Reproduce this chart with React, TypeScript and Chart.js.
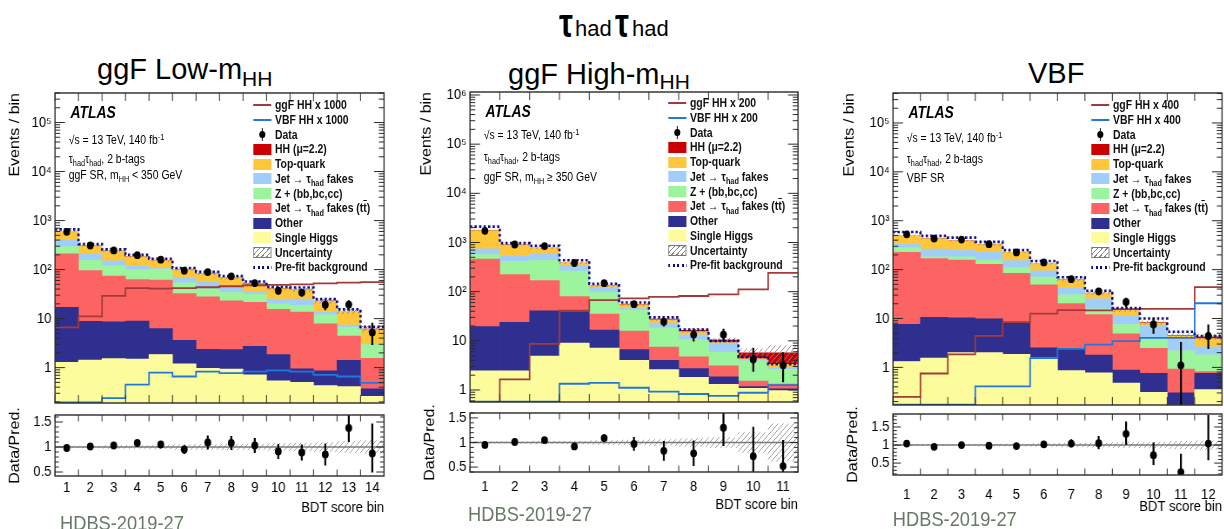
import React, { useEffect, useRef } from 'react';
import { Chart, registerables } from 'chart.js';

Chart.register(...registerables);

const FONT = '"Liberation Sans", Arial, Helvetica, sans-serif';
const SQUEEZE = 0.87;
const PANEL_W = 452;
const FRAME_LEFT = 63.2;

// ---------- tick labels ----------
const logTickValues = [1, 10, 100, 1000, 10000, 100000, 1000000];
const logTickLabels = ['1', '10', '10²', '10³', '10⁴', '10⁵', '10⁶'];
const ratioTickValues = [0.5, 1, 1.5];
const ratioTickLabels = ['0.5', '1', '1.5'];

// ---------- process styles (bottom of stack first) ----------
const processNames = ['Single Higgs', 'Other', 'Jet fakes (ttbar)', 'Z + (bb,bc,cc)', 'Jet fakes', 'Top-quark', 'HH (mu=2.2)'];
const processColors = ['#fdfc9d', '#2f2f8f', '#fc6464', '#9cf59c', '#a0cef8', '#ffc63a', '#cc0000'];
const GGF_COLOR = '#a33a3a';
const VBF_COLOR = '#2277dd';
const PREFIT_COLOR = '#0d0d8a';

// ---------- ggF Low-mHH ----------
const lowBins = ['1', '2', '3', '4', '5', '6', '7', '8', '9', '10', '11', '12', '13', '14'];
const lowSingleHiggs = [1.29, 1.42, 1.53, 1.5, 1.85, 1.2, 0.97, 0.93, 0.71, 0.54, 0.5, 0.43, 0.41, 0.26];
const lowOther = [15.8, 7.4, 7.1, 7.4, 4.4, 2.4, 1.4, 1.4, 2.0, 1.3, 0.45, 0.43, 1.0, 0.11];
const lowFakesTT = [192, 87, 65, 54, 55, 29, 25.6, 20.7, 18.8, 13.6, 12.7, 7.0, 3.0, 1.17];
const lowZhf = [84, 58, 46, 37, 39, 21.4, 13, 11, 10.1, 4.6, 4.9, 4.1, 2.2, 1.4];
const lowFakes = [105, 52, 31, 17, 5, 12, 15, 10, 3.4, 5, 6.5, 2, 0.8, 0.07];
const lowTop = [202, 101, 89, 65, 46, 34, 26, 24, 16.5, 16, 13.6, 8.6, 6.6, 3.0];
const lowHH = [0.02, 0.03, 0.07, 0.09, 0.09, 0.09, 0.1, 0.1, 0.11, 0.11, 0.11, 0.12, 0.12, 0.12];
const lowData = [588, 310, 246, 197, 159, 95, 89, 73, 53, 37, 34, 19.2, 19.3, 5.2];
const lowDataErrLo = [24, 18, 16, 14, 13, 10, 9.4, 8.5, 7.3, 6.1, 5.8, 4.4, 4.4, 2.3];
const lowDataErrHi = [24, 18, 16, 14, 13, 10, 9.4, 8.5, 7.3, 6.1, 5.8, 4.4, 4.4, 3.0];
const lowPrefit = [661, 331, 259, 200, 166, 108, 90, 74, 57, 44, 43, 25, 15.4, 6.8];
const lowGgf = [6.6, 11.1, 29, 41.7, 41, 41.7, 43.6, 45.7, 47.9, 48.6, 50, 52.5, 54, 55.6];
const lowVbf = [0.195, 0.195, 0.24, 0.45, 0.79, 0.66, 0.83, 0.77, 0.83, 0.88, 0.83, 0.71, 0.66, 0.49];
const lowRatio = [0.98, 1.01, 1.03, 1.08, 1.05, 0.95, 1.09, 1.08, 1.03, 0.91, 0.89, 0.85, 1.38, 0.87];
const lowRatioErrLo = [0.04, 0.05, 0.05, 0.06, 0.07, 0.09, 0.14, 0.14, 0.15, 0.15, 0.16, 0.22, 0.28, 0.38];
const lowRatioErrHi = [0.04, 0.05, 0.05, 0.06, 0.07, 0.09, 0.14, 0.14, 0.15, 0.15, 0.16, 0.22, 0.28, 0.6];
const lowUnc = [0.02, 0.02, 0.03, 0.03, 0.04, 0.05, 0.05, 0.06, 0.06, 0.07, 0.08, 0.09, 0.11, 0.13];

// ---------- ggF High-mHH ----------
const highBins = ['1', '2', '3', '4', '5', '6', '7', '8', '9', '10', '11'];
const highSingleHiggs = [2.45, 2.45, 4.9, 8.97, 7.1, 4.0, 2.6, 1.8, 1.3, 1.08, 0.97];
const highOther = [17, 21.4, 35.9, 30.6, 9.5, 2.6, 1.4, 0.93, 0.56, 0.09, 0.08];
const highFakesTT = [443, 199, 128, 39.4, 18.4, 9.1, 3.46, 1.97, 1.23, 0.35, 0.27];
const highZhf = [103, 191, 265, 182, 60.5, 26.3, 10.8, 5.9, 2.8, 2.38, 1.28];
const highFakes = [180, 109, 148, 78, 21.5, 5.6, 4.6, 2.6, 3.1, 0.2, 0.3];
const highTop = [1000, 374, 187, 44, 13, 6.4, 4.0, 2.2, 0.4, 0.25, 0.44];
const highHH = [0.01, 0.02, 0.1, 0.46, 0.75, 0.8, 0.86, 0.9, 0.97, 1.35, 2.36];
const highData = [1730, 910, 845, 383, 149, 55.7, 24.5, 13.4, 13.4, 4.15, 3.19];
const highDataErrLo = [42, 30, 29, 20, 12, 7.5, 5, 3.7, 3.7, 1.8, 1.76];
const highDataErrHi = [42, 30, 29, 20, 12, 7.5, 5, 4.3, 4.3, 3.05, 2.7];
const highPrefit = [2100, 970, 857, 434, 145, 60, 30, 16.9, 10, 4.7, 3.34];
const highGgf = [0.5, 1.64, 8.7, 40.9, 67, 73, 78, 81.7, 88, 111, 241];
const highVbf = [0.58, 0.58, 0.58, 1.34, 1.4, 1.11, 0.93, 0.83, 0.76, 0.88, 1.26];
const highRatio = [0.95, 1.01, 1.05, 0.92, 1.09, 0.97, 0.83, 0.78, 1.3, 0.72, 0.52];
const highRatioErrLo = [0.03, 0.03, 0.04, 0.05, 0.08, 0.14, 0.2, 0.26, 0.37, 0.55, 0.6];
const highRatioErrHi = [0.03, 0.03, 0.04, 0.05, 0.08, 0.14, 0.2, 0.26, 0.32, 0.6, 0.53];
const highUnc = [0.02, 0.02, 0.03, 0.03, 0.04, 0.05, 0.06, 0.08, 0.1, 0.2, 0.38];

// ---------- VBF SR ----------
const vbfBins = ['1', '2', '3', '4', '5', '6', '7', '8', '9', '10', '11', '12'];
const vbfSingleHiggs = [1.32, 1.55, 2.0, 2.0, 1.86, 1.57, 0.86, 0.77, 0.48, 0.31, 0.17, 0.35];
const vbfOther = [6.24, 9.05, 8.3, 7.85, 6.34, 0.93, 1.49, 1.01, 0.4, 0.45, 0.13, 0.41];
const vbfFakesTT = [217, 158, 147, 118, 76, 46.5, 17.9, 10.3, 4.0, 1.7, 0.62, 0.06];
const vbfZhf = [54, 14, 26, 29, 26, 21, 10.3, 3.6, 2.66, 1.6, 1.26, 0.98];
const vbfFakes = [63, 79, 67, 68, 42, 24, 12.5, 9.7, 3.64, 2.94, 1.4, 0.82];
const vbfTop = [162, 170, 137, 101, 73, 40, 18.8, 7.6, 3.5, 1.2, 0.8, 1.25];
const vbfHH = [0.01, 0.01, 0.01, 0.03, 0.05, 0.08, 0.1, 0.1, 0.11, 0.11, 0.11, 0.35];
const vbfData = [527, 432, 412, 331, 225, 140, 63.7, 36, 21.8, 7.56, 1.1, 4.38];
const vbfDataErrLo = [23, 21, 20, 18, 15, 12, 8, 6, 4.7, 2.7, 0.95, 2.0];
const vbfDataErrHi = [23, 21, 20, 18, 15, 12, 8, 6, 4.7, 2.7, 2.2, 3.2];
const vbfPrefit = [589, 489, 452, 370, 250, 150, 70, 37, 16.4, 10, 5.37, 4.38];
const vbfGgf = [0.25, 0.75, 1.85, 4.4, 8.4, 12.6, 14.8, 14.7, 15.5, 15.8, 15.8, 44];
const vbfVbf = [0.172, 0.172, 0.172, 0.41, 0.41, 1.55, 2.4, 2.93, 3.45, 4.0, 4.0, 20.5];
const vbfRatio = [1.04, 0.95, 1.0, 0.98, 0.97, 1.02, 1.04, 1.05, 1.31, 0.72, 0.25, 1.04];
const vbfRatioErrLo = [0.04, 0.04, 0.05, 0.05, 0.06, 0.08, 0.1, 0.17, 0.3, 0.27, 0.3, 0.46];
const vbfRatioErrHi = [0.04, 0.04, 0.05, 0.05, 0.06, 0.08, 0.12, 0.2, 0.34, 0.35, 0.51, 0.8];
const vbfUnc = [0.02, 0.02, 0.02, 0.03, 0.03, 0.04, 0.05, 0.06, 0.07, 0.08, 0.1, 0.12];

const Sub = ({ children }: any) => (
  <span style={{ fontSize: '0.7em', position: 'relative', top: '0.4em' }}>{children}</span>
);
const Sup = ({ children }: any) => (
  <span style={{ fontSize: '0.7em', position: 'relative', top: '-0.45em' }}>{children}</span>
);

type Panel = any;

const panels: Panel[] = [
  {
    key: 'low', left: 0, bins: lowBins,
    stack: [lowSingleHiggs, lowOther, lowFakesTT, lowZhf, lowFakes, lowTop, lowHH],
    data: lowData, dataLo: lowDataErrLo, dataHi: lowDataErrHi, prefit: lowPrefit,
    ggf: lowGgf, vbf: lowVbf, ratio: lowRatio, ratioLo: lowRatioErrLo, ratioHi: lowRatioErrHi, unc: lowUnc,
    yMin: 0.19, yMax: 4e5, rMin: 0.42, rMax: 1.64,
    mainTop: 93, mainBottom: 403, ratioTop: 415, ratioBottom: 476, frameRight: 441.4,
    yTitlePad: 7.6, xLabelPad: 3, xTitlePad: 5,
    legendY: 105, factor: '1000', infoY: [113, 140, 159, 175],
    region: <>ggF SR, m<Sub>HH</Sub> &lt; 350 GeV</>,
    hdbsX: 69, hdbsY: 522,
  },
  {
    key: 'high', left: 415, bins: highBins,
    stack: [highSingleHiggs, highOther, highFakesTT, highZhf, highFakes, highTop, highHH],
    data: highData, dataLo: highDataErrLo, dataHi: highDataErrHi, prefit: highPrefit,
    ggf: highGgf, vbf: highVbf, ratio: highRatio, ratioLo: highRatioErrLo, ratioHi: highRatioErrHi, unc: highUnc,
    yMin: 0.57, yMax: 1.15e6, rMin: 0.4, rMax: 1.6,
    mainTop: 92, mainBottom: 402, ratioTop: 413, ratioBottom: 472, frameRight: 440.2,
    yTitlePad: 4.2, xLabelPad: 6, xTitlePad: 4,
    legendY: 103, factor: '200', infoY: [112, 135, 157, 177],
    region: <>ggF SR, m<Sub>HH</Sub> ≥ 350 GeV</>,
    hdbsX: 61, hdbsY: 513,
  },
  {
    key: 'vbf', left: 838, bins: vbfBins,
    stack: [vbfSingleHiggs, vbfOther, vbfFakesTT, vbfZhf, vbfFakes, vbfTop, vbfHH],
    data: vbfData, dataLo: vbfDataErrLo, dataHi: vbfDataErrHi, prefit: vbfPrefit,
    ggf: vbfGgf, vbf: vbfVbf, ratio: vbfRatio, ratioLo: vbfRatioErrLo, ratioHi: vbfRatioErrHi, unc: vbfUnc,
    yMin: 0.17, yMax: 4.1e5, rMin: 0.17, rMax: 1.86,
    mainTop: 93, mainBottom: 405, ratioTop: 414, ratioBottom: 475, frameRight: 441.4,
    yTitlePad: 4.2, xLabelPad: 11, xTitlePad: 5,
    legendY: 105, factor: '400', infoY: [113, 138, 159, 178],
    region: <>VBF SR</>,
    hdbsX: 63, hdbsY: 518,
  },
];

function makeHatch(color: string) {
  const c = document.createElement('canvas');
  c.width = 6; c.height = 6;
  const g = c.getContext('2d')!;
  g.strokeStyle = color;
  g.lineWidth = 1;
  g.beginPath();
  g.moveTo(0, 6); g.lineTo(6, 0);
  g.moveTo(-1, 1); g.lineTo(1, -1);
  g.moveTo(5, 7); g.lineTo(7, 5);
  g.stroke();
  return g.createPattern(c, 'repeat');
}

const frameTicksPlugin = {
  id: 'frameTicks',
  afterDraw(chart: any, _a: any, o: any) {
    const { ctx, chartArea: a } = chart;
    const xs = chart.scales.x;
    const ys = chart.scales.y;
    ctx.save();
    ctx.strokeStyle = '#2a2a2a';
    ctx.lineWidth = 1;
    ctx.beginPath();
    for (let e = 0; e <= o.n; e++) {
      const px = xs.getPixelForValue(e + 0.5);
      ctx.moveTo(px, a.bottom); ctx.lineTo(px, a.bottom - o.xLen);
      ctx.moveTo(px, a.top); ctx.lineTo(px, a.top + o.xLen);
    }
    const ticks: [number, boolean][] = [];
    if (o.log) {
      const k0 = Math.floor(Math.log10(ys.min));
      const k1 = Math.ceil(Math.log10(ys.max));
      for (let k = k0; k <= k1; k++) {
        for (let m = 1; m <= 9; m++) {
          const v = m * Math.pow(10, k);
          if (v >= ys.min && v <= ys.max) ticks.push([v, m === 1]);
        }
      }
    } else {
      const i0 = Math.ceil(ys.min * 10 - 1e-9);
      const i1 = Math.floor(ys.max * 10 + 1e-9);
      for (let i = i0; i <= i1; i++) ticks.push([i / 10, i % 5 === 0]);
    }
    for (const [v, major] of ticks) {
      const py = ys.getPixelForValue(v);
      const L = major ? o.yMajor : o.yMinor;
      ctx.moveTo(a.left, py); ctx.lineTo(a.left + L, py);
      ctx.moveTo(a.right, py); ctx.lineTo(a.right - L, py);
    }
    ctx.stroke();
    ctx.lineWidth = 1.4;
    ctx.strokeRect(a.left, a.top, a.right - a.left, a.bottom - a.top);
    ctx.restore();
  },
};

function edgePoints(vals: number[]) {
  const n = vals.length;
  const pts = vals.map((v, i) => ({ x: i + 0.5, y: v }));
  pts.push({ x: n + 0.5, y: vals[n - 1] });
  return pts;
}

function buildMain(canvas: HTMLCanvasElement, p: Panel) {
  const n = p.bins.length;
  const centers = p.bins.map((_: string, i: number) => i + 1);
  let run = centers.map(() => 0);
  const stackSets = p.stack.map((vals: number[], k: number) => {
    const lo = run;
    const hi = run.map((r: number, i: number) => r + vals[i]);
    run = hi;
    return {
      type: 'bar', label: processNames[k],
      data: centers.map((x: number, i: number) => ({ x, y: [k === 0 ? p.yMin * 0.3 : lo[i], hi[i]] })),
      backgroundColor: processColors[k], borderWidth: 0, grouped: false,
      barPercentage: 1, categoryPercentage: 1, order: 10, clip: 0,
    };
  });
  const total = run;
  const hatch = makeHatch('#8a8a8a');
  const datasets: any[] = [
    ...stackSets,
    {
      type: 'bar', label: 'Uncertainty',
      data: centers.map((x: number, i: number) => ({ x, y: [total[i] * (1 - p.unc[i]), total[i] * (1 + p.unc[i])] })),
      backgroundColor: hatch, borderWidth: 0, grouped: false, barPercentage: 1, categoryPercentage: 1, order: 8, clip: 0,
    },
    {
      type: 'line', label: 'ggF HH', data: edgePoints(p.ggf), stepped: true,
      borderColor: GGF_COLOR, borderWidth: 1.8, pointRadius: 0, fill: false, order: 6, clip: 0,
    },
    {
      type: 'line', label: 'VBF HH', data: edgePoints(p.vbf), stepped: true,
      borderColor: VBF_COLOR, borderWidth: 1.8, pointRadius: 0, fill: false, order: 5, clip: 0,
    },
    {
      type: 'line', label: 'Pre-fit background', data: edgePoints(p.prefit), stepped: true,
      borderColor: PREFIT_COLOR, borderWidth: 2.6, borderDash: [2.6, 2.6], pointRadius: 0, fill: false, order: 4, clip: 0,
    },
    {
      type: 'bar', label: 'Data err',
      data: centers.map((x: number, i: number) => ({ x, y: [p.data[i] - p.dataLo[i], p.data[i] + p.dataHi[i]] })),
      backgroundColor: '#000', borderWidth: 0, grouped: false, maxBarThickness: 2.2, order: 2, clip: 0,
    },
    {
      type: 'line', label: 'Data',
      data: centers.map((x: number, i: number) => ({ x, y: p.data[i] })),
      showLine: false, pointRadius: 3.9, pointBackgroundColor: '#000', pointBorderWidth: 0, order: 1,
    },
  ];
  return new Chart(canvas, {
    type: 'bar',
    data: { datasets },
    options: {
      animation: false, responsive: false, maintainAspectRatio: false, events: [],
      layout: { padding: { left: 0, right: PANEL_W - p.frameRight, top: 16, bottom: 16 } },
      plugins: {
        legend: { display: false }, tooltip: { enabled: false },
        frameTicks: { n, log: true, xLen: 8, yMajor: 11.5, yMinor: 6 },
      },
      scales: {
        x: { type: 'linear', min: 0.5, max: n + 0.5, display: false, offset: false, grid: { offset: false } },
        y: {
          type: 'logarithmic', min: p.yMin, max: p.yMax,
          grid: { display: false, drawTicks: false }, border: { display: false },
          ticks: {
            font: { family: FONT, size: 15 }, color: '#000', padding: 4, autoSkip: false,
            callback: (v: number) => {
              const idx = logTickValues.findIndex((t) => Math.abs(t - v) / t < 1e-6);
              return idx >= 0 ? logTickLabels[idx] : '';
            },
          },
          afterBuildTicks: (s: any) => {
            s.ticks = logTickValues.filter((v) => v >= p.yMin && v <= p.yMax).map((v) => ({ value: v }));
          },
          afterFit: (s: any) => { s.width = FRAME_LEFT; },
          title: {
            display: true, text: 'Events / bin', align: 'end', color: '#000',
            font: { family: FONT, size: 16 }, padding: { top: p.yTitlePad, bottom: 0 },
          },
        },
      },
    } as any,
    plugins: [frameTicksPlugin as any],
  } as any);
}

function buildRatio(canvas: HTMLCanvasElement, p: Panel) {
  const n = p.bins.length;
  const centers = p.bins.map((_: string, i: number) => i + 1);
  const hatch = makeHatch('#9a9a9a');
  const datasets: any[] = [
    {
      type: 'bar', label: 'Uncertainty',
      data: centers.map((x: number, i: number) => ({ x, y: [1 - p.unc[i], 1 + p.unc[i]] })),
      backgroundColor: hatch, borderWidth: 0, grouped: false, barPercentage: 1, categoryPercentage: 1, order: 8, clip: 0,
    },
    {
      type: 'line', label: 'Unity', data: [{ x: 0.5, y: 1 }, { x: n + 0.5, y: 1 }],
      borderColor: '#7a7a7a', borderWidth: 1.6, pointRadius: 0, fill: false, order: 6, clip: 0,
    },
    {
      type: 'bar', label: 'Ratio err',
      data: centers.map((x: number, i: number) => ({ x, y: [p.ratio[i] - p.ratioLo[i], p.ratio[i] + p.ratioHi[i]] })),
      backgroundColor: '#000', borderWidth: 0, grouped: false, maxBarThickness: 2.2, order: 2, clip: 0,
    },
    {
      type: 'line', label: 'Data/Pred.',
      data: centers.map((x: number, i: number) => ({ x, y: p.ratio[i] })),
      showLine: false, pointRadius: 3.9, pointBackgroundColor: '#000', pointBorderWidth: 0, order: 1, clip: 0,
    },
  ];
  return new Chart(canvas, {
    type: 'bar',
    data: { datasets },
    options: {
      animation: false, responsive: false, maintainAspectRatio: false, events: [],
      layout: { padding: { left: 0, right: PANEL_W - p.frameRight, top: 16, bottom: 0 } },
      plugins: {
        legend: { display: false }, tooltip: { enabled: false },
        frameTicks: { n, log: false, xLen: 6.5, yMajor: 9, yMinor: 4.5 },
      },
      scales: {
        x: {
          type: 'linear', min: 0.5, max: n + 0.5, offset: false,
          grid: { display: false, drawTicks: false, offset: false }, border: { display: false },
          ticks: {
            font: { family: FONT, size: 15 }, color: '#000', padding: p.xLabelPad, autoSkip: false, maxRotation: 0,
            callback: (_v: number, i: number) => p.bins[i],
          },
          afterBuildTicks: (s: any) => { s.ticks = centers.map((v: number) => ({ value: v })); },
          afterFit: (s: any) => { s.height = 46; },
          title: {
            display: true, text: 'BDT score bin', align: 'end', color: '#000',
            font: { family: FONT, size: 15 }, padding: { top: 0, bottom: p.xTitlePad },
          },
        },
        y: {
          type: 'linear', min: p.rMin, max: p.rMax,
          grid: { display: false, drawTicks: false }, border: { display: false },
          ticks: {
            font: { family: FONT, size: 15 }, color: '#000', padding: 4, autoSkip: false,
            callback: (v: number) => {
              const idx = ratioTickValues.findIndex((t) => Math.abs(t - v) < 1e-6);
              return idx >= 0 ? ratioTickLabels[idx] : '';
            },
          },
          afterBuildTicks: (s: any) => { s.ticks = ratioTickValues.map((v) => ({ value: v })); },
          afterFit: (s: any) => { s.width = FRAME_LEFT; },
          title: {
            display: true, text: 'Data/Pred.', align: 'center', color: '#000',
            font: { family: FONT, size: 16 }, padding: { top: 7.6, bottom: 0 },
          },
        },
      },
    } as any,
    plugins: [frameTicksPlugin as any],
  } as any);
}

const LEG_DY = 14.75;
const SYM_X = 291;
const SYM_W = 21;
const TXT_X = 316;

function legendRows(factor: string) {
  return [
    { kind: 'line', color: GGF_COLOR, text: <>ggF HH x {factor}</> },
    { kind: 'line', color: VBF_COLOR, text: <>VBF HH x {factor}</> },
    { kind: 'data', text: <>Data</> },
    { kind: 'box', color: processColors[6], text: <>HH (μ=2.2)</> },
    { kind: 'box', color: processColors[5], text: <>Top-quark</> },
    { kind: 'box', color: processColors[4], text: <>Jet → τ<Sub>had</Sub> fakes</> },
    { kind: 'box', color: processColors[3], text: <>Z + (bb,bc,cc)</> },
    { kind: 'box', color: processColors[2], text: <>Jet → τ<Sub>had</Sub> fakes (t<span style={{ textDecoration: 'overline' }}>t</span>)</> },
    { kind: 'box', color: processColors[1], text: <>Other</> },
    { kind: 'box', color: processColors[0], text: <>Single Higgs</> },
    { kind: 'hatch', text: <>Uncertainty</> },
    { kind: 'dotted', text: <>Pre-fit background</> },
  ];
}

function Symbol({ kind, color, cy }: any) {
  const base: any = { position: 'absolute', left: SYM_X, width: SYM_W };
  if (kind === 'line') return <div style={{ ...base, top: cy - 1, height: 2, background: color }} />;
  if (kind === 'box') return <div style={{ ...base, top: cy - 5.5, height: 11, background: color }} />;
  if (kind === 'hatch')
    return (
      <div style={{
        ...base, top: cy - 5.5, height: 11, boxSizing: 'border-box', border: '1px solid #777',
        background: 'repeating-linear-gradient(135deg, #888 0px, #888 1px, transparent 1px, transparent 4px)',
      }} />
    );
  if (kind === 'dotted')
    return (
      <div style={{
        ...base, top: cy - 1.3, height: 2.6,
        background: `repeating-linear-gradient(90deg, ${PREFIT_COLOR} 0px, ${PREFIT_COLOR} 2.6px, transparent 2.6px, transparent 5.2px)`,
      }} />
    );
  return (
    <>
      <div style={{ position: 'absolute', left: SYM_X + SYM_W / 2 - 0.8, top: cy - 6.5, width: 1.6, height: 13, background: '#000' }} />
      <div style={{ position: 'absolute', left: SYM_X + SYM_W / 2 - 3.9, top: cy - 3.9, width: 7.8, height: 7.8, borderRadius: '50%', background: '#000' }} />
    </>
  );
}

function PanelView({ p }: { p: Panel }) {
  const mainRef = useRef<HTMLCanvasElement>(null);
  const ratioRef = useRef<HTMLCanvasElement>(null);
  useEffect(() => {
    const a = buildMain(mainRef.current!, p);
    const b = buildRatio(ratioRef.current!, p);
    return () => { a.destroy(); b.destroy(); };
  }, [p]);
  const mainH = p.mainBottom - p.mainTop + 32;
  const ratioH = 16 + (p.ratioBottom - p.ratioTop) + 46;
  const rows = legendRows(p.factor);
  const txt = (cy: number, size: number, extra: any = {}) => ({
    position: 'absolute', left: 79, top: cy - 8, lineHeight: '16px', fontSize: size, whiteSpace: 'nowrap', ...extra,
  });
  return (
    <div style={{
      position: 'absolute', left: p.left, top: 0, width: PANEL_W, height: 529,
      transform: `scaleX(${SQUEEZE})`, transformOrigin: '0 0',
    }}>
      <canvas ref={mainRef} width={PANEL_W} height={mainH}
        style={{ position: 'absolute', left: 0, top: p.mainTop - 16, width: PANEL_W, height: mainH }} />
      <canvas ref={ratioRef} width={PANEL_W} height={ratioH}
        style={{ position: 'absolute', left: 0, top: p.ratioTop - 16, width: PANEL_W, height: ratioH }} />
      <div style={txt(p.infoY[0], 16, { left: 81, fontWeight: 'bold', fontStyle: 'italic', top: p.infoY[0] - 9, lineHeight: '18px' })}>ATLAS</div>
      <div style={txt(p.infoY[1], 12)}>√s = 13 TeV, 140 fb<Sup>-1</Sup></div>
      <div style={txt(p.infoY[2], 12)}>τ<Sub>had</Sub>τ<Sub>had</Sub>, 2 b-tags</div>
      <div style={txt(p.infoY[3], 12)}>{p.region}</div>
      {rows.map((r: any, i: number) => {
        const cy = p.legendY + i * LEG_DY;
        return (
          <React.Fragment key={i}>
            <Symbol kind={r.kind} color={r.color} cy={cy} />
            <div style={{
              position: 'absolute', left: TXT_X, top: cy - 8, lineHeight: '16px', fontSize: 12,
              fontWeight: 'bold', color: '#111', whiteSpace: 'nowrap',
            }}>
              {r.text}
            </div>
          </React.Fragment>
        );
      })}
      <div style={{
        position: 'absolute', left: p.hdbsX, top: p.hdbsY - 10.3, fontSize: 21, lineHeight: '21px',
        color: '#667a66', whiteSpace: 'nowrap',
      }}>HDBS-2019-27</div>
    </div>
  );
}

export default function App() {
  useEffect(() => { document.body.style.margin = '0'; }, []);
  const tau = (left: number) => (
    <div style={{
      position: 'absolute', left, top: 3, fontSize: 40, lineHeight: '40px', fontWeight: 'bold',
      transform: 'scaleX(0.78)', transformOrigin: '0 0',
    }}>τ</div>
  );
  const had = (left: number) => (
    <div style={{ position: 'absolute', left, top: 18.4, fontSize: 22, lineHeight: '22px' }}>had</div>
  );
  const ptitle = (left: number, baseline: number, content: any) => (
    <div style={{ position: 'absolute', left, top: baseline - 24.5, fontSize: 29, lineHeight: '29px', whiteSpace: 'nowrap' }}>{content}</div>
  );
  const hh = (dy: number) => <span style={{ fontSize: 21, position: 'relative', top: dy }}>HH</span>;
  return (
    <div style={{
      position: 'absolute', left: 0, top: 0, width: 1224, height: 529, overflow: 'hidden',
      background: '#fff', fontFamily: FONT, color: '#000',
    }}>
      {tau(559)}{had(575)}{tau(615)}{had(632)}
      {ptitle(97, 79, <>ggF Low-m{hh(7)}</>)}
      {ptitle(508, 84, <>ggF High-m{hh(5)}</>)}
      {ptitle(1028, 83, <>VBF</>)}
      {panels.map((p) => <PanelView key={p.key} p={p} />)}
    </div>
  );
}
